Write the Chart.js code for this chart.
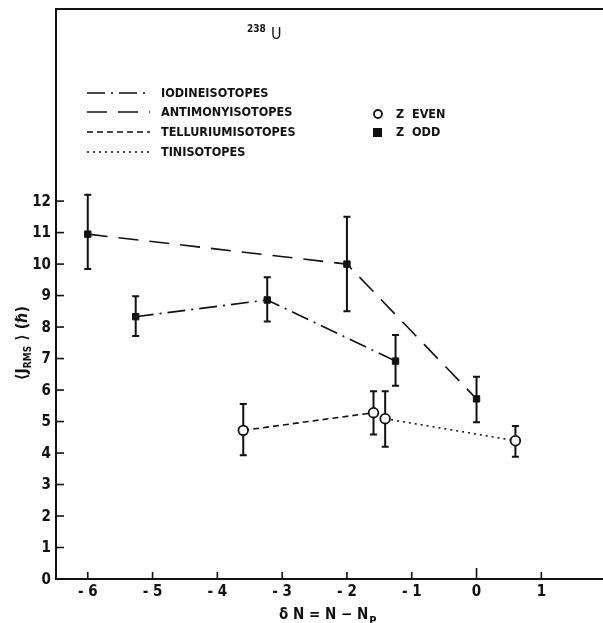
<!DOCTYPE html>
<html>
<head>
<meta charset="utf-8">
<script src="https://cdn.jsdelivr.net/npm/chart.js@4/dist/chart.umd.min.js"></script>
<style>
  body { margin: 0; background: #fff; }
  canvas { display: block; }
</style>
</head>
<body>
<canvas id="myChart" width="603" height="623"></canvas>
<script>
// values (delta N, <J_RMS>, error bar low / high)
const iodineX = [-5.26, -3.23, -1.25];
const iodineY = [8.33, 8.86, 6.92];
const iodineLo = [7.72, 8.18, 6.14];
const iodineHi = [8.98, 9.58, 7.75];

const antimonyX = [-6, -2, 0];
const antimonyY = [10.95, 10.0, 5.72];
const antimonyLo = [9.84, 8.5, 4.98];
const antimonyHi = [12.2, 11.5, 6.42];

const telluriumX = [-3.6, -1.59];
const telluriumY = [4.72, 5.28];
const telluriumLo = [3.93, 4.59];
const telluriumHi = [5.56, 5.96];

const tinX = [-1.41, 0.6];
const tinY = [5.09, 4.39];
const tinLo = [4.2, 3.88];
const tinHi = [5.96, 4.86];

const xTicks = [-6, -5, -4, -3, -2, -1, 0, 1];
const yTicks = [0, 1, 2, 3, 4, 5, 6, 7, 8, 9, 10, 11, 12];

const seriesNames = ["IODINEISOTOPES", "ANTIMONYISOTOPES", "TELLURIUMISOTOPES", "TINISOTOPES"];

const font = '"DejaVu Sans Condensed", "DejaVu Sans", sans-serif';

const toPts = (xs, ys) => xs.map((x, i) => ({ x: x, y: ys[i] }));

const oddPoint = { pointStyle: "rect", pointRadius: 4.5, pointBackgroundColor: "#111", pointBorderColor: "#111", pointBorderWidth: 1 };
const evenPoint = { pointStyle: "circle", pointRadius: 4.8, pointBackgroundColor: "#fff", pointBorderColor: "#111", pointBorderWidth: 1.8 };

const datasets = [
  { label: seriesNames[0], data: toPts(iodineX, iodineY), lo: iodineLo, hi: iodineHi, borderDash: [18, 6, 2, 6], ...oddPoint },
  { label: seriesNames[1], data: toPts(antimonyX, antimonyY), lo: antimonyLo, hi: antimonyHi, borderDash: [20, 11], ...oddPoint },
  { label: seriesNames[2], data: toPts(telluriumX, telluriumY), lo: telluriumLo, hi: telluriumHi, borderDash: [6, 4], ...evenPoint },
  { label: seriesNames[3], data: toPts(tinX, tinY), lo: tinLo, hi: tinHi, borderDash: [2, 4], ...evenPoint },
].map((d) => ({ ...d, showLine: true, borderColor: "#111", borderWidth: 1.6, fill: false }));

// error bars under the markers
const errorBars = {
  id: "errorBars",
  beforeDatasetsDraw(chart) {
    const { ctx, scales: { x, y } } = chart;
    ctx.save();
    ctx.strokeStyle = "#111";
    ctx.lineWidth = 2;
    chart.data.datasets.forEach((ds) => {
      ds.data.forEach((p, i) => {
        const px = x.getPixelForValue(p.x);
        const top = y.getPixelForValue(ds.hi[i]);
        const bot = y.getPixelForValue(ds.lo[i]);
        ctx.beginPath();
        ctx.moveTo(px, top); ctx.lineTo(px, bot);
        ctx.moveTo(px - 3.5, top); ctx.lineTo(px + 3.5, top);
        ctx.moveTo(px - 3.5, bot); ctx.lineTo(px + 3.5, bot);
        ctx.stroke();
      });
    });
    ctx.restore();
  },
};

// frame, inward ticks, labels, titles, legend
const decorations = {
  id: "decorations",
  afterDraw(chart) {
    const { ctx, chartArea: a, scales: { x, y } } = chart;
    ctx.save();
    ctx.strokeStyle = "#111";
    ctx.fillStyle = "#111";
    ctx.lineWidth = 2;
    ctx.beginPath();
    ctx.moveTo(chart.width, a.top);
    ctx.lineTo(a.left, a.top);
    ctx.lineTo(a.left, a.bottom);
    ctx.lineTo(chart.width, a.bottom);
    ctx.stroke();

    ctx.lineWidth = 1.6;
    ctx.font = "bold 15px " + font;
    ctx.textAlign = "right";
    ctx.textBaseline = "middle";
    yTicks.forEach((v) => {
      const py = y.getPixelForValue(v);
      ctx.beginPath(); ctx.moveTo(a.left, py); ctx.lineTo(a.left + 8, py); ctx.stroke();
      ctx.fillText(String(v), a.left - 5, py + 1);
    });
    ctx.textAlign = "center";
    ctx.textBaseline = "top";
    xTicks.forEach((v) => {
      const px = x.getPixelForValue(v);
      ctx.beginPath(); ctx.moveTo(px, a.bottom); ctx.lineTo(px, a.bottom - (v === 0 ? 11 : 7)); ctx.stroke();
      ctx.fillText(v < 0 ? "- " + Math.abs(v) : String(v), px, a.bottom + 6);
    });

    // x title
    ctx.textAlign = "left";
    ctx.textBaseline = "alphabetic";
    ctx.font = "bold 15px " + font;
    let tx = 279;
    const ty = 619;
    ctx.fillText("δ N = N − N", tx, ty);
    tx += ctx.measureText("δ N = N − N").width + 1;
    ctx.font = "bold 11px " + font;
    ctx.fillText("P", tx, ty + 5);

    // y title (rotated)
    ctx.save();
    ctx.translate(27, 343);
    ctx.rotate(-Math.PI / 2);
    ctx.textAlign = "left";
    ctx.font = "bold 16px " + font;
    const w1 = ctx.measureText("⟨J").width;
    ctx.font = "bold 10px " + font;
    const w2 = ctx.measureText("RMS").width;
    ctx.font = "bold 16px " + font;
    const w3 = ctx.measureText(" ⟩ (ℏ)").width;
    let sx = -(w1 + w2 + w3) / 2;
    ctx.fillText("⟨J", sx, 0);
    sx += w1;
    ctx.font = "bold 10px " + font;
    ctx.fillText("RMS", sx, 4);
    sx += w2;
    ctx.font = "bold 16px " + font;
    ctx.fillText(" ⟩ (ℏ)", sx, 0);
    ctx.restore();

    // title 238U
    ctx.font = "bold 10px " + font;
    ctx.fillText("238", 247, 32);
    ctx.font = "16px " + font;
    ctx.fillText("U", 271, 39);

    // legend: line styles
    ctx.font = "600 12.5px " + font;
    ctx.textBaseline = "middle";
    const rows = [93, 112, 132, 152];
    chart.data.datasets.forEach((ds, i) => {
      ctx.save();
      ctx.lineWidth = 1.4;
      ctx.setLineDash(ds.borderDash);
      ctx.beginPath(); ctx.moveTo(87, rows[i]); ctx.lineTo(150, rows[i]); ctx.stroke();
      ctx.restore();
      ctx.fillText(ds.label, 161, rows[i] + 1);
    });

    // legend: markers
    ctx.lineWidth = 1.8;
    ctx.beginPath(); ctx.arc(378, 114, 4, 0, Math.PI * 2); ctx.stroke();
    ctx.fillRect(373, 128, 9, 9);
    ctx.fillText("Z  EVEN", 396, 115);
    ctx.fillText("Z  ODD", 396, 133);
    ctx.restore();
  },
};

new Chart(document.getElementById("myChart"), {
  type: "scatter",
  data: { datasets: datasets },
  options: {
    responsive: false,
    animation: false,
    devicePixelRatio: 1,
    layout: { padding: { left: 56, top: 9, right: 0, bottom: 44 } },
    plugins: { legend: { display: false }, tooltip: { enabled: false } },
    scales: {
      x: { type: "linear", min: -6.49, max: 1.85, display: false },
      y: { type: "linear", min: 0, max: 18.1, display: false },
    },
  },
  plugins: [errorBars, decorations],
});
</script>
</body>
</html>
